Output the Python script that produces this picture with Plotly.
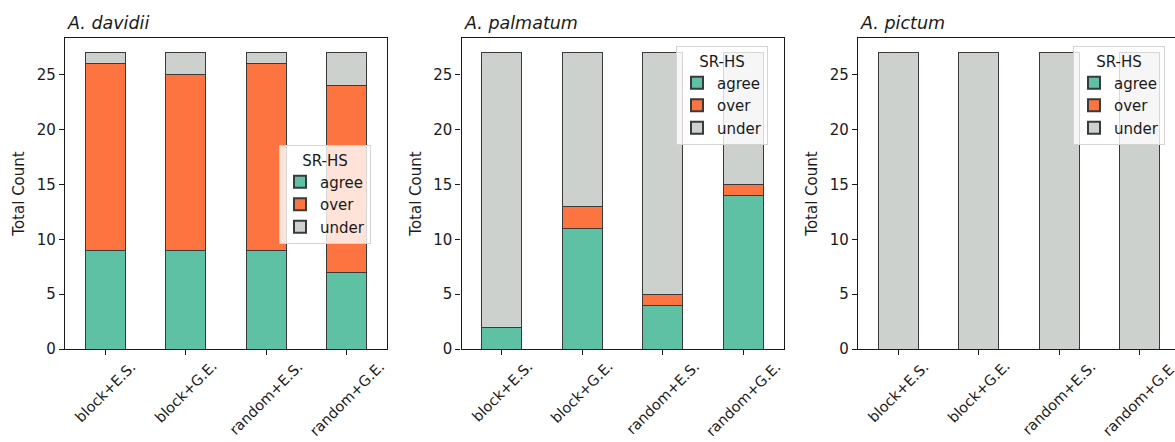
import plotly.graph_objects as go

# ---------------- data ----------------
categories = ["block+E.S.", "block+G.E.", "random+E.S.", "random+G.E."]
species = ["A. davidii", "A. palmatum", "A. pictum"]

davidii_agree = [9, 9, 9, 7]
davidii_over = [17, 16, 17, 17]
davidii_under = [1, 2, 1, 3]

palmatum_agree = [2, 11, 4, 14]
palmatum_over = [0, 2, 1, 1]
palmatum_under = [25, 14, 22, 12]

pictum_agree = [0, 0, 0, 0]
pictum_over = [0, 0, 0, 0]
pictum_under = [27, 27, 27, 27]

series_names = ["agree", "over", "under"]
legend_title = "SR-HS"
y_title = "Total Count"

# ---------------- style ----------------
W, H = 1175, 442
COLORS = {"agree": "#5ec1a3", "over": "#fe7441", "under": "#cdd1cd"}
EDGE = "#3a3a3a"
TXT = "#1a1a1a"
FONT = "DejaVu Sans"
FS = 15
FS_XT = 14.5

data_sets = [
    (davidii_agree, davidii_over, davidii_under),
    (palmatum_agree, palmatum_over, palmatum_under),
    (pictum_agree, pictum_over, pictum_under),
]

px_left = [65, 461.5, 858]
px_unit = 80.5
x_right_px = [px_left[i] + 4 * px_unit for i in range(3)]
top_px, bot_px = 38, 349
ymax = 28.35

legend_pos = [(279, 145), (676, 46), (1073, 46)]

fig = go.Figure()
axis_ids = ["", "2", "3"]
legend_ids = ["legend", "legend2", "legend3"]

for i, (vals, aid, lid) in enumerate(zip(data_sets, axis_ids, legend_ids)):
    for name, v in zip(series_names, vals):
        fig.add_trace(go.Bar(
            x=categories, y=v, name=name,
            marker=dict(color=COLORS[name], line=dict(color=EDGE, width=1)),
            width=0.5, xaxis="x" + aid, yaxis="y" + aid,
            legend=lid, showlegend=True,
        ))

layout = dict(
    width=W, height=H, autosize=False,
    margin=dict(l=0, r=0, t=0, b=0, autoexpand=False),
    paper_bgcolor="white", plot_bgcolor="white",
    barmode="stack",
    font=dict(family=FONT, size=FS, color=TXT),
    annotations=[],
)

for i, aid in enumerate(axis_ids):
    x0 = px_left[i] / W
    x1 = min(x_right_px[i], W) / W
    visible_units = (min(x_right_px[i], W) - px_left[i]) / px_unit
    xr = [-0.5, -0.5 + visible_units]
    y0 = (H - bot_px) / H
    y1 = (H - top_px) / H
    clipped = x_right_px[i] > W
    layout["xaxis" + aid] = dict(
        domain=[x0, x1], range=xr, type="category",
        categoryorder="array", categoryarray=categories,
        showline=True, linecolor="#1a1a1a", linewidth=1.2, mirror=True,
        ticks="outside", ticklen=5, tickwidth=1.2, tickcolor="#1a1a1a",
        showticklabels=False, showgrid=False, zeroline=False,
        anchor="y" + aid, fixedrange=True,
    )
    layout["yaxis" + aid] = dict(
        domain=[y0, y1], range=[0, ymax],
        showline=True, linecolor="#1a1a1a", linewidth=1.2,
        mirror=(False if clipped else True),
        ticks="outside", ticklen=5, tickwidth=1.2, tickcolor="#1a1a1a",
        tickvals=[0, 5, 10, 15, 20, 25],
        tickfont=dict(size=FS, color=TXT),
        showgrid=False, zeroline=False,
        title=dict(text=y_title, font=dict(size=FS, color=TXT), standoff=8),
        anchor="x" + aid, fixedrange=True,
    )
    # subplot title
    layout["annotations"].append(dict(
        text=species[i], x=x0, xref="paper", xanchor="left",
        y=y1, yref="paper", yanchor="bottom", yshift=3,
        showarrow=False, font=dict(size=17.5, color=TXT, family=FONT, style="italic"),
    ))
    # rotated category labels (centred under each tick)
    for c in categories:
        layout["annotations"].append(dict(
            text=c, x=c, xref="x" + aid, y=0, yref="y" + aid,
            xanchor="center", yanchor="top", yshift=-8, textangle=-45,
            showarrow=False, borderpad=0,
            font=dict(size=FS_XT, color=TXT, family=FONT),
        ))
    lx, ly = legend_pos[i]
    layout[legend_ids[i]] = dict(
        x=lx / W, xanchor="left", y=(H - ly) / H, yanchor="top",
        bgcolor="rgba(255,255,255,0.8)", bordercolor="#d4d4d4", borderwidth=1,
        title=dict(text=legend_title, side="top center", font=dict(size=FS, color=TXT)),
        font=dict(size=FS, color=TXT, family=FONT),
        traceorder="normal", itemsizing="constant",
    )

fig.update_layout(**layout)
fig.write_html("out.html", post_script="document.body.style.margin='0px';",
               config={"displayModeBar": False})
